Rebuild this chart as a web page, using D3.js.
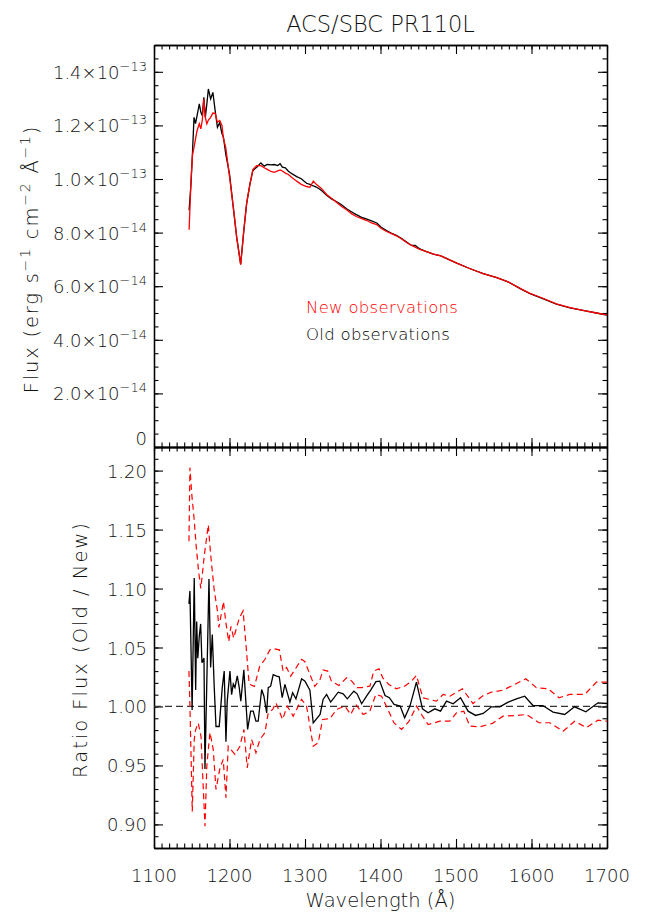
<!DOCTYPE html>
<html lang="en">
<head>
  <meta charset="UTF-8">
  <title>ACS/SBC PR110L</title>
  <script src="https://d3js.org/d3.v7.min.js"></script>
  <style>
    body {
      margin: 0;
      background: #fff;
    }

    svg {
      display: block;
      font-family: "DejaVu Sans", sans-serif;
      font-weight: 200;
      fill: #111;
    }
  </style>
</head>
<body>
  <svg width="645" height="915"></svg>

  <script>
    // ---- data ----
    // top panel: flux in units of 1e-14 erg/s/cm2/A
    const topWave = [1146.5, 1149, 1151, 1153, 1155, 1157, 1160, 1162, 1164, 1166,
      1168, 1170, 1172, 1175, 1178, 1181, 1184, 1187, 1190, 1192,
      1195, 1200, 1205, 1209.5, 1214.8, 1219, 1222.7, 1227, 1231, 1236,
      1241.5, 1246, 1250, 1255, 1259, 1264, 1267, 1270, 1274, 1278,
      1283, 1289, 1295, 1302, 1306.5, 1311, 1315, 1322, 1328.6, 1335,
      1342, 1348, 1355, 1362, 1368, 1375, 1382, 1388, 1395, 1401,
      1408, 1414, 1421, 1428, 1434, 1441, 1446, 1452, 1460, 1470,
      1480, 1490, 1501, 1518, 1536, 1554, 1569, 1585, 1598, 1615,
      1633, 1651, 1668, 1686, 1700];
    const fluxOld = [8.83, 9.82, 11.0, 12.3, 12.07, 12.36, 12.8, 12.5, 12.36, 13.05,
      12.3, 12.8, 13.36, 12.99, 13.23, 12.55, 11.93, 12.1, 11.7, 11.56,
      10.94, 10.19, 8.95, 7.83, 6.82, 8.08, 9.08, 9.8, 10.32, 10.44,
      10.6, 10.48, 10.54, 10.53, 10.54, 10.5, 10.57, 10.44, 10.42, 10.29,
      10.19, 10.09, 10.01, 9.84, 9.8, 9.74, 9.7, 9.57, 9.39, 9.26,
      9.15, 9.05, 8.89, 8.77, 8.67, 8.57, 8.5, 8.44, 8.36, 8.2,
      8.08, 7.98, 7.9, 7.78, 7.66, 7.52, 7.52, 7.39, 7.3, 7.2,
      7.13, 7.0, 6.86, 6.66, 6.47, 6.32, 6.16, 5.91, 5.72, 5.54,
      5.33, 5.19, 5.1, 5.0, 4.92];
    const fluxNew = [8.11, 9.94, 10.9, 11.18, 11.5, 11.8, 12.06, 11.87, 12.2, 12.99,
      12.3, 12.06, 12.2, 12.3, 12.46, 12.45, 12.12, 12.18, 12.0, 11.5,
      11.18, 10.1, 8.95, 7.83, 6.8, 8.1, 9.1, 9.8, 10.35, 10.5,
      10.5, 10.42, 10.36, 10.28, 10.25, 10.3, 10.34, 10.3, 10.22, 10.17,
      10.05, 9.92, 9.8, 9.72, 9.69, 9.92, 9.8, 9.64, 9.42, 9.28,
      9.12, 8.98, 8.85, 8.7, 8.6, 8.52, 8.45, 8.36, 8.3, 8.15,
      8.04, 7.97, 7.88, 7.76, 7.64, 7.52, 7.46, 7.37, 7.3, 7.2,
      7.13, 7.0, 6.86, 6.66, 6.47, 6.32, 6.16, 5.92, 5.73, 5.55,
      5.34, 5.2, 5.1, 5.0, 4.93];

    // bottom panel: ratio old / new
    const ratioWave = [1146.3, 1147.6, 1150.5, 1153.3, 1155.2, 1156.5, 1158, 1160, 1161.8, 1163.5,
      1166.2, 1167.5, 1169.8, 1172.8, 1175, 1177.2, 1179.8, 1182.1, 1186.4, 1190.4,
      1193, 1195.3, 1197, 1200.6, 1202.8, 1205, 1207.2, 1210.3, 1212.9, 1215,
      1219, 1224, 1228, 1231.4, 1235, 1238, 1242.6, 1245.6, 1249.2, 1251.3,
      1254.5, 1257.9, 1262.4, 1265.9, 1269.8, 1273.4, 1280, 1283.6, 1288, 1295.5,
      1300, 1306.5, 1310.9, 1320, 1324, 1328.6, 1334, 1344, 1350.6, 1356,
      1364.7, 1369, 1375, 1381.5, 1387, 1394, 1399, 1406, 1411.7, 1418,
      1426, 1432, 1439, 1447.6, 1455.6, 1463, 1472, 1479.5, 1487.4, 1496.2,
      1506, 1516, 1526, 1536, 1547, 1558, 1569, 1580, 1591, 1602,
      1615, 1628.5, 1644, 1657, 1672, 1688, 1700];
    const ratioOld = [1.087, 1.098, 0.997, 1.109, 1.014, 1.072, 1.041, 1.06, 1.07, 1.037,
      1.041, 0.947, 1.016, 1.108, 1.033, 1.061, 1.016, 0.983, 0.983, 1.016,
      1.03, 0.970, 1.0045, 1.03, 1.01, 1.019, 1.016, 1.026, 1.016, 1.0045,
      1.031, 0.9805, 0.996, 0.996, 0.9875, 0.9875, 1.0144, 1.0087, 0.9946, 1.0159,
      1.0172, 1.027, 1.0257, 1.0252, 1.0074, 1.0187, 1.0037, 1.0116, 1.0065, 1.0235,
      1.0215, 1.0138, 0.986, 0.9932, 1.006, 1.0102, 1.0037, 1.0121, 1.0107, 1.0065,
      1.013, 1.0107, 1.0023, 1.0087, 1.0138, 1.021, 1.0215, 1.0093, 1.0074, 1.0017,
      1.0003, 0.9904, 1.0003, 1.0206, 0.998, 0.9946, 0.998, 0.996, 1.0045, 1.0023,
      1.0074, 0.996, 0.9924, 0.9941, 0.9997, 0.9997, 1.0037, 1.0065, 1.0087, 1.0008,
      1.0008, 0.9952, 0.9932, 0.9997, 0.9955, 1.0031, 1.0025];

    const upperWave = [1146.3, 1147.6, 1150, 1153, 1156, 1159, 1162, 1167, 1171.9, 1175,
      1179.5, 1184, 1186, 1192, 1195, 1199, 1202, 1205.5, 1213, 1218,
      1222, 1226, 1233, 1240, 1247, 1253.5, 1258, 1266, 1271, 1275.6,
      1281, 1295.5, 1300, 1306.5, 1313, 1320, 1324, 1330, 1335, 1345,
      1355, 1362, 1369, 1375, 1386, 1391, 1398, 1403, 1411, 1421,
      1432, 1441, 1447.6, 1456, 1465, 1474, 1483, 1492, 1508.5, 1522.5,
      1536, 1547, 1562, 1578, 1592.4, 1606.5, 1622, 1636.5, 1650.6, 1670.5,
      1686, 1700];
    const upperRatio = [1.14, 1.2025, 1.18, 1.16, 1.135, 1.115, 1.10, 1.13, 1.154, 1.129,
      1.10, 1.081, 1.067, 1.089, 1.072, 1.055, 1.068, 1.058, 1.075, 1.081,
      1.051, 1.019, 1.017, 1.034, 1.04, 1.048, 1.049, 1.048, 1.03, 1.033,
      1.0257, 1.04, 1.038, 1.027, 1.017, 1.023, 1.031, 1.03, 1.0215, 1.0178,
      1.0243, 1.0215, 1.0159, 1.016, 1.0172, 1.03, 1.032, 1.0243, 1.0187, 1.015,
      1.0172, 1.0215, 1.0263, 1.0074, 1.006, 1.0045, 1.0102, 1.0087, 1.015, 1.0025,
      1.0093, 1.0121, 1.0138, 1.0187, 1.0235, 1.0159, 1.015, 1.0074, 1.0102, 1.0102,
      1.0206, 1.0206];

    const lowerWave = [1146.3, 1147.6, 1150.7, 1153.3, 1155, 1158.6, 1162.2, 1167.5, 1170, 1174.1,
      1178.5, 1182.1, 1187.4, 1191.7, 1195.3, 1198.3, 1207.2, 1213.8, 1219.1, 1223.5,
      1229.3, 1235, 1240.3, 1246.9, 1251.3, 1257.2, 1261.5, 1270.3, 1276.4, 1284.4,
      1288.9, 1295.5, 1302.1, 1310.9, 1317.5, 1323.3, 1333, 1341.8, 1352.8, 1360.4,
      1367.4, 1377, 1385.9, 1393.8, 1401.4, 1408.8, 1417.7, 1427.9, 1437.9, 1447.7,
      1454.3, 1463.1, 1478.6, 1491.8, 1500.7, 1510.3, 1518.3, 1531.5, 1548.3, 1562.3,
      1580.1, 1593.3, 1610, 1624.2, 1641.8, 1657.2, 1672.7, 1688.1, 1700];
    const lowerRatio = [1.03, 1.0003, 0.911, 0.972, 0.98, 0.986, 0.975, 0.8985, 0.95, 0.978,
      0.9635, 0.9296, 0.948, 0.955, 0.9226, 0.9663, 0.9593, 0.9663, 0.9805, 0.948,
      0.972, 0.9607, 0.972, 0.9777, 0.9946, 0.9975, 1.0031, 0.989, 1.0003, 0.9918,
      0.9975, 1.006, 1.0003, 0.9663, 0.9692, 0.989, 0.9896, 0.9975, 1.0003, 0.9932,
      1.0017, 0.9932, 0.996, 1.0102, 1.0087, 0.9989, 0.9862, 0.9805, 0.9875, 1.0003,
      0.9932, 0.9847, 0.9875, 0.9875, 0.9946, 0.996, 0.9833, 0.9828, 0.9856, 0.9918,
      0.9924, 0.9932, 0.9862, 0.9862, 0.979, 0.9875, 0.982, 0.9884, 0.9875];

    // ticks
    const waveTicks = [1100, 1200, 1300, 1400, 1500, 1600, 1700];
    const fluxTicks = [0, 2, 4, 6, 8, 10, 12, 14];   // x 1e-14
    const ratioTicks = [0.90, 0.95, 1.00, 1.05, 1.10, 1.15, 1.20];

    // ---- layout ----
    const svg = d3.select("svg");
    const left = 154, right = 607;
    const top0 = 45, mid = 447, bottom = 848;
    const major = 9, minor = 4.5;

    const x = d3.scaleLinear().domain([1100, 1700]).range([left, right]);
    const yFlux = d3.scaleLinear().domain([0, 15]).range([mid, top0]);
    const yRatio = d3.scaleLinear().domain([0.88, 1.22]).range([bottom, mid]);

    const waveMinor = d3.range(1100, 1701, 10);
    const fluxMinor = d3.range(0, 15.01, 0.5);
    const ratioMinor = d3.range(88, 123).map(d => d / 100);

    function frame(y, yMajor, yMinor, y0, y1) {
      const g = svg.append("g");
      const axes = [
        [d3.axisBottom(x), `translate(0,${y1})`, waveTicks, waveMinor],
        [d3.axisTop(x), `translate(0,${y0})`, waveTicks, waveMinor],
        [d3.axisLeft(y), `translate(${left},0)`, yMajor, yMinor],
        [d3.axisRight(y), `translate(${right},0)`, yMajor, yMinor]
      ];
      axes.forEach(([ax, tr, maj, mnr]) => {
        g.append("g").attr("transform", tr)
          .call(ax.tickValues(mnr).tickSize(-minor).tickSizeOuter(0).tickFormat(""));
        g.append("g").attr("transform", tr)
          .call(ax.tickValues(maj).tickSize(-major).tickSizeOuter(0).tickFormat(""));
      });
      g.selectAll("path.domain").attr("stroke", "#000").attr("stroke-width", 1.3);
      g.selectAll(".tick line").attr("stroke", "#000").attr("stroke-width", 1.1);
      return g;
    }

    frame(yFlux, fluxTicks, fluxMinor, top0, mid);
    frame(yRatio, ratioTicks, ratioMinor, mid, bottom);

    // clip paths
    const defs = svg.append("defs");
    defs.append("clipPath").attr("id", "clipTop").append("rect")
      .attr("x", left).attr("y", top0).attr("width", right - left).attr("height", mid - top0);
    defs.append("clipPath").attr("id", "clipBot").append("rect")
      .attr("x", left).attr("y", mid).attr("width", right - left).attr("height", bottom - mid);

    // ---- top panel curves ----
    const lineTop = d3.line().x(d => x(d[0])).y(d => yFlux(d[1]));
    const gTop = svg.append("g").attr("clip-path", "url(#clipTop)");
    gTop.append("path")
      .attr("d", lineTop(d3.zip(topWave, fluxOld)))
      .attr("fill", "none").attr("stroke", "#000").attr("stroke-width", 1.3);
    gTop.append("path")
      .attr("d", lineTop(d3.zip(topWave, fluxNew)))
      .attr("fill", "none").attr("stroke", "#f00").attr("stroke-width", 1.3);

    // ---- bottom panel curves ----
    const lineBot = d3.line().x(d => x(d[0])).y(d => yRatio(d[1]));
    const gBot = svg.append("g").attr("clip-path", "url(#clipBot)");
    gBot.append("line")
      .attr("x1", left).attr("x2", right)
      .attr("y1", yRatio(1)).attr("y2", yRatio(1))
      .attr("stroke", "#333").attr("stroke-width", 1.3)
      .attr("stroke-dasharray", "7 4");
    [[upperWave, upperRatio], [lowerWave, lowerRatio]].forEach(([w, r]) => {
      gBot.append("path")
        .attr("d", lineBot(d3.zip(w, r)))
        .attr("fill", "none").attr("stroke", "#f00").attr("stroke-width", 1.2)
        .attr("stroke-dasharray", "6 4");
    });
    gBot.append("path")
      .attr("d", lineBot(d3.zip(ratioWave, ratioOld)))
      .attr("fill", "none").attr("stroke", "#000").attr("stroke-width", 1.3);

    // ---- labels ----
    const fs = 18;

    svg.append("g").selectAll("text")
      .data(waveTicks)
      .join("text")
      .attr("x", d => x(d))
      .attr("y", 882)
      .attr("text-anchor", "middle")
      .attr("font-size", fs)
      .text(d => d);

    // flux tick labels, e.g. 1.4x10^-13
    svg.append("g").selectAll("text")
      .data(fluxTicks)
      .join("text")
      .attr("x", 147)
      .attr("y", d => d === 0 ? yFlux(d) - 2 : yFlux(d) + 7)
      .attr("text-anchor", "end")
      .attr("font-size", fs)
      .each(function (d) {
        const t = d3.select(this);
        if (d === 0) { t.text("0"); return; }
        const v = d * 1e-14;
        const e = Math.floor(Math.log10(v) + 1e-9);
        const m = v / Math.pow(10, e);
        t.append("tspan").text(m.toFixed(1) + "×10");
        t.append("tspan").attr("dy", -8).attr("font-size", 13).text("−" + Math.abs(e));
      });

    svg.append("g").selectAll("text")
      .data(ratioTicks)
      .join("text")
      .attr("x", 147)
      .attr("y", d => yRatio(d) + 7)
      .attr("text-anchor", "end")
      .attr("font-size", fs)
      .text(d => d.toFixed(2));

    // axis titles
    svg.append("text")
      .attr("x", (left + right) / 2).attr("y", 907)
      .attr("text-anchor", "middle").attr("font-size", 19.5)
      .text("Wavelength (Å)");

    const fluxTitle = svg.append("text")
      .attr("transform", "translate(38,259) rotate(-90)")
      .attr("text-anchor", "middle").attr("font-size", 19.5)
      .attr("letter-spacing", 1.8);
    [["Flux (erg s", 0], ["−1", 1], [" cm", 0], ["−2", 1], [" Å", 0], ["−1", 1], [")", 0]]
      .forEach(([s, sup], i, arr) => {
        const prevSup = i > 0 && arr[i - 1][1];
        const ts = fluxTitle.append("tspan").text(s);
        if (sup) ts.attr("dy", -8).attr("font-size", 14);
        else if (prevSup) ts.attr("dy", 8);
      });

    svg.append("text")
      .attr("transform", `translate(87,${(mid + bottom) / 2 + 2}) rotate(-90)`)
      .attr("text-anchor", "middle").attr("font-size", 19.5)
      .attr("letter-spacing", 2)
      .text("Ratio Flux (Old / New)");

    // title
    svg.append("text")
      .attr("x", (left + right) / 2).attr("y", 32)
      .attr("text-anchor", "middle").attr("font-size", 22.5)
      .text("ACS/SBC PR110L");

    // legend
    svg.append("text")
      .attr("x", 306).attr("y", 313).attr("font-size", 16.5)
      .attr("letter-spacing", 0.3)
      .attr("fill", "#f00")
      .text("New observations");
    svg.append("text")
      .attr("x", 306).attr("y", 340).attr("font-size", 16.5)
      .attr("letter-spacing", 0.3)
      .attr("fill", "#000")
      .text("Old observations");
  </script>
</body>
</html>
